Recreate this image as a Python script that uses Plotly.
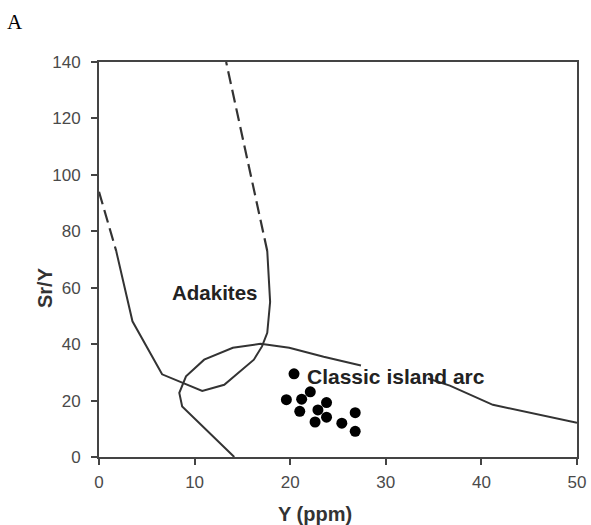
import plotly.graph_objects as go

# --- data ---
adakite_dash_left_x = [0.0, 1.8]
adakite_dash_left_y = [94.0, 73.0]
adakite_solid_x = [1.8, 3.5, 6.6, 10.8, 13.1, 16.2, 17.05, 17.6, 17.9, 17.6]
adakite_solid_y = [73.0, 48.1, 29.3, 23.4, 25.6, 34.5, 39.2, 44.0, 55.0, 73.0]
adakite_dash_right_x = [17.6, 13.3]
adakite_dash_right_y = [73.0, 140.0]

arc_x = [14.15, 8.7, 8.4, 9.1, 11.0, 14.0, 16.9, 19.9, 23.5, 27.4, None, 34.4, 36.7, 41.2, 50.0]
arc_y = [0.0, 17.9, 22.7, 28.6, 34.5, 38.7, 40.1, 38.7, 35.5, 32.4, None, 27.8, 25.3, 18.5, 12.1]

sample_y = [20.4, 19.6, 21.2, 22.1, 21.0, 22.9, 23.8, 22.6, 23.8, 25.4, 26.8, 26.8]
sample_sry = [29.5, 20.3, 20.5, 23.1, 16.2, 16.7, 19.3, 12.4, 14.1, 12.0, 15.7, 9.1]

x_ticks = [0, 10, 20, 30, 40, 50]
y_ticks = [0, 20, 40, 60, 80, 100, 120, 140]

line_color = "#333333"
dash_style = "13px,6px"

fig = go.Figure()
fig.add_trace(go.Scatter(x=adakite_dash_left_x, y=adakite_dash_left_y, mode="lines",
                         line=dict(color=line_color, width=2.2, dash=dash_style), hoverinfo="skip"))
fig.add_trace(go.Scatter(x=adakite_solid_x, y=adakite_solid_y, mode="lines",
                         line=dict(color=line_color, width=2), hoverinfo="skip"))
fig.add_trace(go.Scatter(x=adakite_dash_right_x, y=adakite_dash_right_y, mode="lines",
                         line=dict(color=line_color, width=2.2, dash=dash_style), hoverinfo="skip"))
fig.add_trace(go.Scatter(x=arc_x, y=arc_y, mode="lines", connectgaps=False,
                         line=dict(color=line_color, width=2), hoverinfo="skip"))
fig.add_trace(go.Scatter(x=sample_y, y=sample_sry, mode="markers",
                         marker=dict(color="black", size=11)))

font_family = "Liberation Sans, Arial, sans-serif"

W, H = 591, 525
L, R, T, B = 99, 14, 62, 68

fig.update_layout(
    width=W, height=H,
    margin=dict(l=L, r=R, t=T, b=B),
    paper_bgcolor="white", plot_bgcolor="white",
    showlegend=False,
    font=dict(family=font_family, color="#555555", size=17),
    xaxis=dict(range=[0, 50], tickvals=x_ticks, showgrid=False, zeroline=False,
               showline=True, linecolor="#444444", linewidth=2, mirror=True,
               ticks="outside", ticklen=6, tickwidth=2, tickcolor="#444444",
               automargin=False, ticklabelstandoff=3,
               tickfont=dict(size=17, color="#4a4a4a")),
    yaxis=dict(range=[0, 140], tickvals=y_ticks, showgrid=False, zeroline=False,
               showline=True, linecolor="#444444", linewidth=2, mirror=True,
               ticks="outside", ticklen=6, tickwidth=2, tickcolor="#444444",
               automargin=False, ticklabelstandoff=7,
               tickfont=dict(size=17, color="#4a4a4a")),
    annotations=[
        dict(text="<b>Adakites</b>", x=12.1, y=58.3, xref="x", yref="y", showarrow=False,
             font=dict(size=20.5, color="#222222", family=font_family)),
        dict(text="<b>Classic island arc</b>", x=31.1, y=28.5, xref="x", yref="y", showarrow=False,
             font=dict(size=21, color="#222222", family=font_family)),
        dict(text="<b>Sr/Y</b>", x=45, y=288, xref="paper", yref="paper", showarrow=False,
             textangle=-90, xanchor="center", yanchor="middle",
             font=dict(size=20, color="#333333", family=font_family)),
        dict(text="<b>Y (ppm)</b>", x=315, y=514, xref="paper", yref="paper", showarrow=False,
             xanchor="center", yanchor="middle",
             font=dict(size=20, color="#333333", family=font_family)),
        dict(text="A", x=15, y=22, xref="paper", yref="paper", showarrow=False,
             xanchor="center", yanchor="middle",
             font=dict(size=21, color="black", family="Liberation Serif, Times New Roman, serif")),
    ],
)

# convert page-pixel positions of the outer labels into paper coordinates
pw, ph = W - L - R, H - T - B
for ann in fig.layout.annotations:
    if ann.xref == "paper":
        ann.x = (ann.x - L) / pw
        ann.y = (H - B - ann.y) / ph

# remove the default page margin so the figure fills the window exactly
fig.write_html("out.html",
               config={"displayModeBar": False},
               post_script="document.body.style.margin='0';document.body.style.overflow='hidden';")
